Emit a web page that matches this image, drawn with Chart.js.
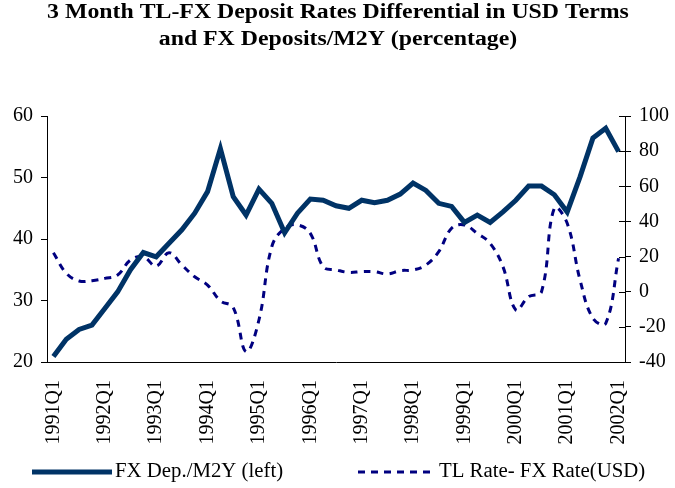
<!DOCTYPE html>
<html>
<head>
<meta charset="utf-8">
<script src="https://cdn.jsdelivr.net/npm/chart.js@4.4.1/dist/chart.umd.min.js"></script>
<style>
  html, body { margin: 0; padding: 0; background: #fff; }
  #wrap { width: 675px; height: 488px; }
</style>
</head>
<body>
<div id="wrap"><canvas id="chart" width="675" height="488"></canvas></div>
<script>
// Quarters 1991Q1 .. 2002Q1
const years = [1991, 1992, 1993, 1994, 1995, 1996, 1997, 1998, 1999, 2000, 2001, 2002];
const quarters = [];
years.forEach(y => {
  for (let q = 1; q <= 4; q++) {
    if (y === 2002 && q > 1) break;
    quarters.push(y + 'Q' + q);
  }
});

const titleLines = ['3 Month TL-FX Deposit Rates Differential in USD Terms', 'and FX Deposits/M2Y (percentage)'];

// FX deposits / M2Y (left axis, %)
const fxDepM2Y = [
  20.9, 23.7, 25.3, 26.0, 28.7, 31.4, 35.0, 37.8, 37.1, 39.3,
  41.5, 44.2, 47.7, 54.7, 46.9, 43.9, 48.1, 45.8, 41.0, 44.2,
  46.5, 46.3, 45.4, 45.0, 46.3, 45.9, 46.3, 47.3, 49.1, 47.9,
  45.8, 45.3, 42.7, 43.9, 42.7, 44.4, 46.3, 48.6, 48.6, 47.2,
  44.4, 50.1, 56.4, 58.0, 54.2
];

// TL rate - FX rate (USD) differential (right axis)
const rateDiff = [
  22.2, 10.5, 6.1, 6.3, 7.6, 9.5, 18.0, 19.9, 14.6, 22.2,
  15.2, 8.5, 3.8, -5.2, -9.0, -34.1, -16.1, 25.6, 36.1, 38.0,
  33.2, 14.2, 12.4, 11.0, 11.4, 11.4, 10.1, 12.0, 12.4, 15.2,
  22.8, 36.1, 38.0, 33.2, 27.5, 14.2, -10.4, -2.8, 0.0, 47.5,
  38.9, 6.7, -15.1, -18.0, 19.0
];

const serif = "'Liberation Serif', 'Times New Roman', serif";

// title of the original is a little wider than the font, so stretch it
const wideTitle = {
  id: 'wideTitle',
  afterDraw(chart) {
    const ctx = chart.ctx;
    ctx.save();
    ctx.fillStyle = '#000';
    ctx.font = 'bold 20px ' + serif;
    ctx.textAlign = 'center';
    ctx.textBaseline = 'middle';
    ctx.translate(338, 0);
    ctx.scale(1.19, 1);
    ctx.fillText(titleLines[0], 0, 13);
    ctx.fillText(titleLines[1], 0, 40);
    ctx.restore();
  }
};

// legend drawn by hand so the two entries sit where the original has them
const bottomLegend = {
  id: 'bottomLegend',
  afterDraw(chart) {
    const ctx = chart.ctx;
    const y = 472;
    const items = [
      { ds: chart.data.datasets[0], x0: 32, x1: 112 },
      { ds: chart.data.datasets[1], x0: 358, x1: 436 }
    ];
    ctx.save();
    items.forEach(it => {
      ctx.beginPath();
      ctx.strokeStyle = it.ds.borderColor;
      ctx.lineWidth = it.ds.borderWidth;
      ctx.setLineDash(it.ds.borderDash || []);
      ctx.moveTo(it.x0, y);
      ctx.lineTo(it.x1, y);
      ctx.stroke();
      ctx.setLineDash([]);
      ctx.save();
      ctx.fillStyle = '#000';
      ctx.font = '20px ' + serif;
      ctx.textAlign = 'left';
      ctx.textBaseline = 'middle';
      ctx.translate(it.x1 + 3, y);
      ctx.scale(1.04, 1);
      ctx.fillText(it.ds.label, 0, 0);
      ctx.restore();
    });
    ctx.restore();
  }
};

// right axis ticks cross the axis line
const rightInnerTicks = {
  id: 'rightInnerTicks',
  afterDraw(chart) {
    const s = chart.scales.y1;
    const ctx = chart.ctx;
    ctx.save();
    ctx.strokeStyle = '#000';
    ctx.lineWidth = 1;
    s.ticks.forEach(t => {
      const py = Math.round(s.getPixelForValue(t.value)) + 0.5;
      ctx.beginPath();
      ctx.moveTo(s.left - 6, py);
      ctx.lineTo(s.left, py);
      ctx.stroke();
    });
    ctx.restore();
  }
};

new Chart(document.getElementById('chart'), {
  type: 'line',
  data: {
    labels: quarters,
    datasets: [
      {
        label: 'FX Dep./M2Y (left)',
        data: fxDepM2Y,
        yAxisID: 'y',
        borderColor: '#003366',
        borderWidth: 5,
        pointRadius: 0,
        tension: 0,
        fill: false
      },
      {
        label: 'TL Rate- FX Rate(USD)',
        data: rateDiff,
        yAxisID: 'y1',
        borderColor: '#000080',
        borderWidth: 3,
        borderDash: [7, 6],
        pointRadius: 0,
        tension: 0.4,
        fill: false
      }
    ]
  },
  options: {
    responsive: false,
    animation: false,
    layout: { padding: { left: 0, right: 0, top: 116, bottom: 36 } },
    plugins: {
      legend: { display: false },
      tooltip: { enabled: false },
      title: { display: false }
    },
    scales: {
      x: {
        offset: true,
        grid: { display: false, drawTicks: false },
        border: { display: true, color: '#000', width: 1 },
        afterFit(s) { s.height = 90; },
        ticks: {
          autoSkip: false,
          minRotation: 90,
          maxRotation: 90,
          padding: 18,
          color: '#000',
          font: { family: serif, size: 20 },
          callback(v, i) { return i % 4 === 0 ? this.getLabelForValue(v) : ''; }
        }
      },
      y: {
        position: 'left',
        min: 20,
        max: 60,
        afterFit(s) { s.width = 47; },
        grid: { drawOnChartArea: false, color: '#000', tickLength: 6 },
        border: { display: true, color: '#000', width: 1 },
        ticks: { stepSize: 10, padding: 8, color: '#000', font: { family: serif, size: 20 } }
      },
      y1: {
        position: 'right',
        min: -40,
        max: 100,
        afterFit(s) { s.width = 50; },
        grid: { drawOnChartArea: false, color: '#000', tickLength: 6 },
        border: { display: true, color: '#000', width: 1 },
        ticks: { stepSize: 20, padding: 8, color: '#000', font: { family: serif, size: 20 } }
      }
    }
  },
  plugins: [wideTitle, bottomLegend, rightInnerTicks]
});
</script>
</body>
</html>
